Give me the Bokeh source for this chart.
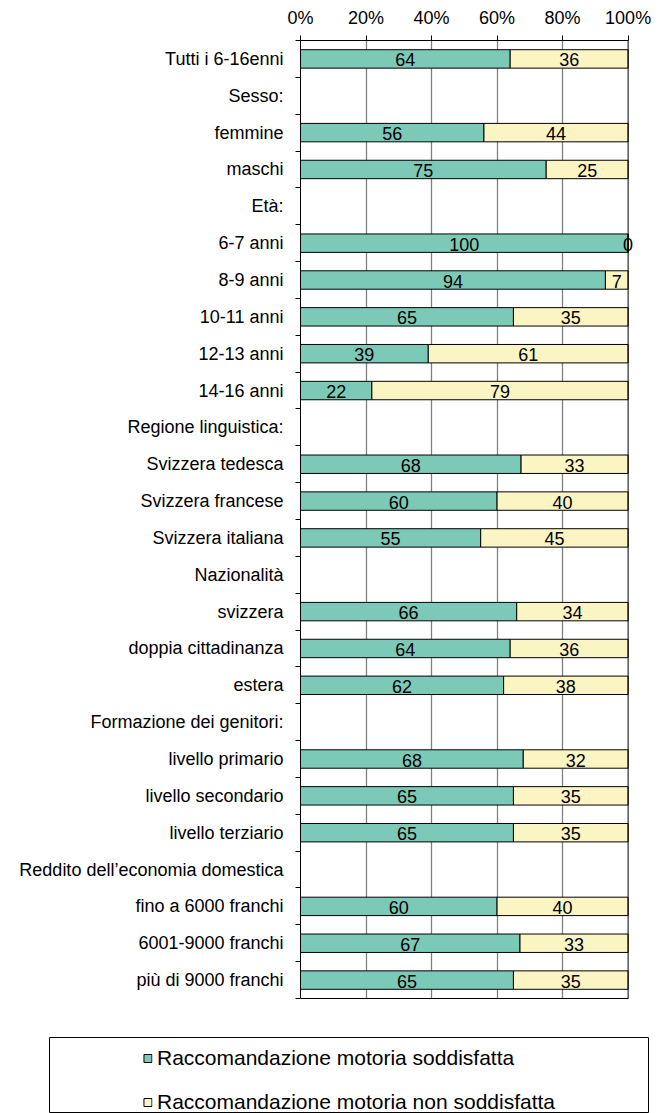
from bokeh.plotting import figure
from bokeh.models import (Range1d, FixedTicker, CustomJSTickFormatter, PrintfTickFormatter,
                          ColumnDataSource, Legend, LegendItem, LabelSet, LinearAxis, Span)
from bokeh.layouts import column
from bokeh.core.properties import value
from bokeh.embed import file_html
from bokeh.resources import INLINE

# ---------------- data ----------------
categories = [
    "Tutti i 6-16enni", "Sesso:", "femmine", "maschi", "Età:",
    "6-7 anni", "8-9 anni", "10-11 anni", "12-13 anni", "14-16 anni",
    "Regione linguistica:", "Svizzera tedesca", "Svizzera francese", "Svizzera italiana",
    "Nazionalità", "svizzera", "doppia cittadinanza", "estera",
    "Formazione dei genitori:", "livello primario", "livello secondario", "livello terziario",
    "Reddito dell\u2019economia domestica", "fino a 6000 franchi", "6001-9000 franchi",
    "più di 9000 franchi",
]
# None = header row without bar
soddisfatta = [64, None, 56, 75, None, 100, 94, 65, 39, 22, None, 68, 60, 55,
               None, 66, 64, 62, None, 68, 65, 65, None, 60, 67, 65]
non_soddisfatta = [36, None, 44, 25, None, 0, 7, 35, 61, 79, None, 33, 40, 45,
                   None, 34, 36, 38, None, 32, 35, 35, None, 40, 33, 35]
x_ticks = [0, 20, 40, 60, 80, 100]
series_names = ["Raccomandazione motoria soddisfatta", "Raccomandazione motoria non soddisfatta"]

GREEN = "#7DC9B7"
YELLOW = "#FAF5C3"
FONT = "Liberation Sans"

# ---------------- derived ----------------
ys, g_right, y_left, g_mid, y_mid, g_txt, y_txt = [], [], [], [], [], [], []
for i, (g, n) in enumerate(zip(soddisfatta, non_soddisfatta)):
    if g is None:
        continue
    tot = g + n
    gp = g / tot * 100.0
    ys.append(i)
    g_right.append(gp)
    y_left.append(gp)
    g_mid.append(gp / 2.0)
    y_mid.append(gp + (100.0 - gp) / 2.0)
    g_txt.append(str(g))
    y_txt.append(str(n))

src = ColumnDataSource(dict(y=ys, g_right=g_right, y_left=y_left, g_mid=g_mid,
                            y_mid=y_mid, g_txt=g_txt, y_txt=y_txt,
                            zero=[0] * len(ys), full=[100] * len(ys)))

n_rows = len(categories)
X_END = 105  # a little room right of 100% so the "0" label is not clipped

p = figure(width=659, height=1010, output_backend="svg", toolbar_location=None,
           x_range=Range1d(0, X_END), y_range=Range1d(n_rows - 0.5, -0.5),
           x_axis_location="above", min_border_left=300, min_border_right=15,
           min_border_top=40, min_border_bottom=12)
p.frame_align = False
p.outline_line_color = None
p.background_fill_color = "white"
p.border_fill_color = "white"

p.hbar(y="y", left="zero", right="g_right", height=0.5, source=src,
       fill_color=GREEN, line_color="black", line_width=1)
p.hbar(y="y", left="y_left", right="full", height=0.5, source=src,
       fill_color=YELLOW, line_color="black", line_width=1)

# right border of the plot area at 100%
p.add_layout(Span(location=100, dimension="height", line_color="black", line_width=1))

for col_x, col_t in (("g_mid", "g_txt"), ("y_mid", "y_txt")):
    p.add_layout(LabelSet(x=col_x, y="y", text=col_t, source=src,
                          text_align="center", text_baseline="middle",
                          text_font=value(FONT), text_font_size="18px",
                          text_color="black", y_offset=-1))

# x axis (top)
xa = p.xaxis[0]
xa.bounds = (0, 100)
xa.ticker = FixedTicker(ticks=x_ticks)
xa.formatter = PrintfTickFormatter(format="%d%%")
xa.major_tick_out = 5
xa.major_tick_in = 0
xa.minor_tick_line_color = None
xa.axis_line_color = "black"
xa.major_tick_line_color = "black"
xa.major_label_text_font = FONT
xa.major_label_text_font_size = "18px"
xa.major_label_text_color = "black"
xa.major_label_standoff = 8

# bottom border line of plot area
xb = LinearAxis(bounds=(0, 100), ticker=FixedTicker(ticks=[]),
                major_tick_line_color=None, minor_tick_line_color=None,
                major_label_text_font_size="0px", axis_line_color="black")
p.add_layout(xb, "below")

# y axis
ya = p.yaxis[0]
ya.ticker = FixedTicker(ticks=list(range(n_rows)),
                        minor_ticks=[i - 0.5 for i in range(n_rows + 1)])
ya.formatter = CustomJSTickFormatter(args=dict(labels=categories),
                                     code="const i = Math.round(tick); return labels[i] || '';")
ya.major_tick_line_color = None
ya.major_tick_out = 6
ya.major_tick_in = 0
ya.minor_tick_out = 5
ya.minor_tick_in = 0
ya.minor_tick_line_color = "black"
ya.axis_line_color = "black"
ya.major_label_text_font = FONT
ya.major_label_text_font_size = "18px"
ya.major_label_text_color = "black"
ya.major_label_standoff = 11

p.xgrid.ticker = FixedTicker(ticks=x_ticks[:-1])
p.xgrid.grid_line_color = "#808080"
p.xgrid.grid_line_width = 1.3
p.ygrid.grid_line_color = None

# ---------------- legend figure ----------------
q = figure(width=659, height=103, output_backend="svg", toolbar_location=None,
           x_range=Range1d(0, 100), y_range=Range1d(n_rows - 0.5, -0.5),
           x_axis_location=None, y_axis_location=None,
           min_border_left=49, min_border_right=11, min_border_top=27, min_border_bottom=0)
q.frame_align = False
q.outline_line_color = "black"
q.outline_line_alpha = 1.0
q.xgrid.grid_line_color = None
q.ygrid.grid_line_color = None
r1 = q.hbar(y="y", left="zero", right="g_right", height=0.5, source=src,
            fill_color=GREEN, line_color="black", visible=False)
r2 = q.hbar(y="y", left="y_left", right="full", height=0.5, source=src,
            fill_color=YELLOW, line_color="black", visible=False)
leg = Legend(items=[LegendItem(label=series_names[0], renderers=[r1]),
                    LegendItem(label=series_names[1], renderers=[r2])],
             location="top_center", orientation="vertical",
             glyph_width=10, glyph_height=10, label_standoff=5,
             spacing=20, padding=0, margin=9,
             label_text_font=FONT, label_text_font_size="21px",
             label_text_color="black",
             border_line_color=None, background_fill_alpha=0)
q.add_layout(leg, "center")

layout = column(p, q, spacing=0)
open("out.html", "w").write(file_html(layout, INLINE))
